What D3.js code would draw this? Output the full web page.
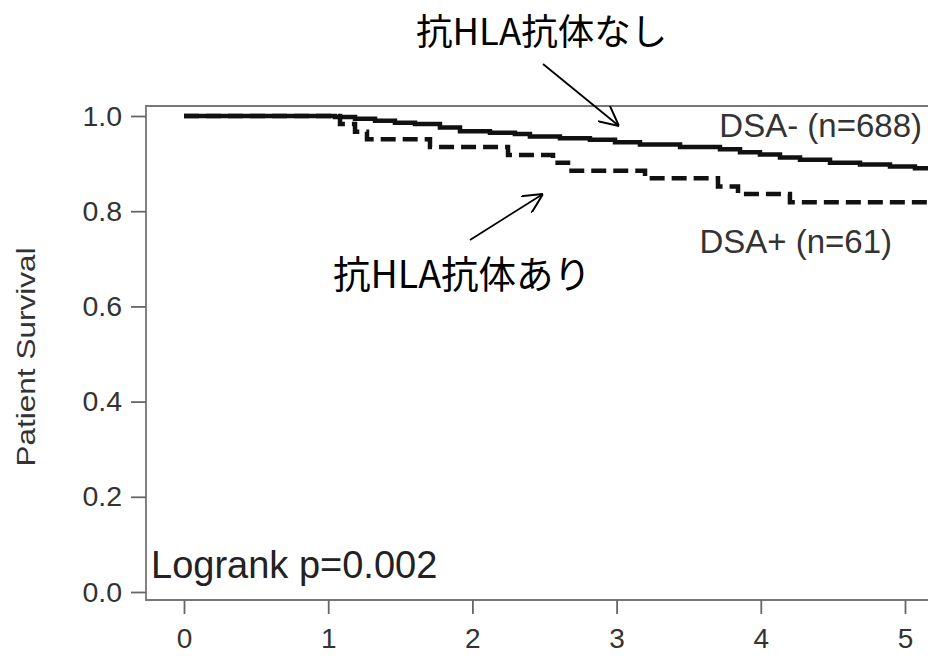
<!DOCTYPE html>
<html><head><meta charset="utf-8">
<script src="https://cdn.jsdelivr.net/npm/d3@7"></script>
<style>body{margin:0;background:#fff}svg{display:block}</style>
</head><body><svg id="c" width="928" height="656"></svg>
<script>
const xTicks = [0,1,2,3,4,5];
const yTicks = [0.0,0.2,0.4,0.6,0.8,1.0];
const negTimes = [0,1.047,1.186,1.325,1.463,1.602,1.775,1.914,2.122,2.295,2.399,2.607,2.815,2.989,3.162,3.440,3.717,3.856,3.994,4.133,4.272,4.480,4.688,4.896,5.069,5.2];
const negSurv  = [1,0.998,0.994,0.990,0.986,0.983,0.976,0.968,0.965,0.962,0.957,0.953,0.950,0.945,0.940,0.935,0.930,0.924,0.919,0.913,0.908,0.902,0.898,0.894,0.890,0.887];
const posTimes = [0,1.082,1.186,1.269,1.706,2.247,2.559,2.663,3.197,3.703,3.842,4.202,5.2];
const posSurv  = [1,0.983,0.967,0.951,0.935,0.918,0.902,0.885,0.869,0.852,0.836,0.819,0.819];
const labels = {neg:"DSA- (n=688)", pos:"DSA+ (n=61)", yTitle:"Patient Survival", logrank:"Logrank p=0.002", jNeg:"抗HLA抗体なし", jPos:"抗HLA抗体あり"};

const svg = d3.select("#c");
const x = d3.scaleLinear().domain([0,5]).range([184,905]);
const y = d3.scaleLinear().domain([0,1]).range([592,116]);
const boxL=146, boxT=106, boxB=600, boxR=940;
const sans = "Liberation Sans, Arial, sans-serif";

// box
svg.append("path").attr("d",`M${boxR},${boxT}H${boxL}V${boxB}H${boxR}`)
  .attr("fill","none").attr("stroke","#777").attr("stroke-width",1.8);

// y axis
const ya = svg.append("g").attr("transform",`translate(${boxL},0)`)
  .call(d3.axisLeft(y).tickValues(yTicks).tickFormat(d3.format(".1f")).tickSize(15).tickPadding(9));
ya.select(".domain").remove();
ya.selectAll("line").attr("stroke","#666").attr("stroke-width",1.8);
ya.selectAll("text").attr("font-family",sans).style("font-size","28.5px").attr("fill","#333");

// x axis
const xa = svg.append("g").attr("transform",`translate(0,${boxB})`)
  .call(d3.axisBottom(x).tickValues(xTicks).tickFormat(d3.format("d")).tickSize(14).tickPadding(14));
xa.select(".domain").remove();
xa.selectAll("line").attr("stroke","#666").attr("stroke-width",1.8);
xa.selectAll("text").attr("font-family",sans).style("font-size","28px").attr("fill","#333");

// curves
const line = d3.line().x(d=>x(d[0])).y(d=>y(d[1])).curve(d3.curveStepAfter);
svg.append("path").datum(d3.zip(negTimes,negSurv)).attr("d",line)
  .attr("fill","none").attr("stroke","#111").attr("stroke-width",4.5);
svg.append("path").datum(d3.zip(posTimes,posSurv)).attr("d",line)
  .attr("fill","none").attr("stroke","#111").attr("stroke-width",4.5).attr("stroke-dasharray","15,7");

// labels
svg.append("text").attr("x",922).attr("y",137).attr("text-anchor","end")
  .attr("font-family",sans).attr("font-size",33).attr("fill","#333").text(labels.neg);
svg.append("text").attr("x",892).attr("y",253).attr("text-anchor","end")
  .attr("font-family",sans).attr("font-size",33).attr("fill","#333").text(labels.pos);
svg.append("text").attr("transform","translate(35,357) rotate(-90)").attr("text-anchor","middle")
  .attr("font-family",sans).attr("font-size",25).attr("fill","#333")
  .attr("textLength",219).attr("lengthAdjust","spacingAndGlyphs").text(labels.yTitle);
svg.append("text").attr("x",151).attr("y",578)
  .attr("font-family",sans).attr("font-size",38).attr("fill","#222").text(labels.logrank);

const jp = "Noto Sans CJK JP, sans-serif";
svg.append("text").attr("x",416).attr("y",45).attr("font-family",jp).attr("font-size",36.5).attr("fill","#000").text(labels.jNeg);
svg.append("text").attr("x",333).attr("y",288).attr("font-family",jp).attr("font-size",37.5).attr("fill","#000").text(labels.jPos);

// arrows
const defs = svg.append("defs");
defs.append("marker").attr("id","ah").attr("viewBox","0 0 10 10").attr("refX",10).attr("refY",5)
  .attr("markerWidth",20).attr("markerHeight",20).attr("markerUnits","userSpaceOnUse").attr("orient","auto")
  .append("path").attr("d","M0,0L10,5L0,10").attr("fill","none").attr("stroke","#000").attr("stroke-width",1);
svg.append("line").attr("x1",543).attr("y1",64).attr("x2",619).attr("y2",126)
  .attr("stroke","#000").attr("stroke-width",1.8).attr("marker-end","url(#ah)");
svg.append("line").attr("x1",470).attr("y1",240).attr("x2",543).attr("y2",194)
  .attr("stroke","#000").attr("stroke-width",1.8).attr("marker-end","url(#ah)");
</script></body></html>
